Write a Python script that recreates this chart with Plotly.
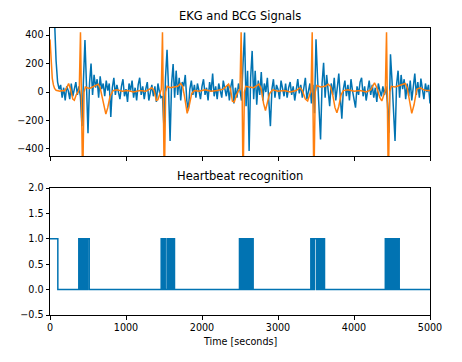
import plotly.graph_objects as go

# ---------------- data ----------------
# BCG signal (blue), sampled every 20 s from 0 to 5000
bcg_step = 20
bcg_values = [
    1500, 1100, 800, 500, 220, 70, 20, 50, -40, 30,
    -60, 40, 10, -50, 60, -30, 20, 70, -20, 40,
    -30, -240, 80, 366, 50, -290, 60, 200, -20, 120,
    30, 90, -40, 110, 20, 60, -30, 80, 10, 60,
    -176, 30, 100, -20, 50, 0, -50, 40, 90, -30,
    20, -70, 60, 10, 80, -40, 30, -60, 50, 100,
    -20, 40, -50, 20, 70, -60, 10, 50, -30, 40,
    -70, 60, 0, -40, -30, -260, 100, 296, 20, -345,
    60, 197, -40, 150, -20, 100, -60, 70, 40, 120,
    -60, -130, 20, 80, -20, 50, -40, 60, 10, -50,
    40, 90, -20, 30, -60, 70, 0, 130, -30, 40,
    -50, 60, 10, -40, 80, 20, -30, 50, -60, 40,
    90, -80, 30, -40, 60, 10, -60, 200, 418, -100,
    150, -415, 100, 289, -50, 150, -90, 80, -20, 140,
    -60, 60, 0, 100, -80, -240, 20, 90, -40, 50,
    20, -50, 80, 10, -30, 60, -40, 30, 70, -20,
    40, -60, 20, 90, -10, 50, -40, 30, 100, -50,
    20, 60, -80, 50, -150, 371, 100, -80, -333, 60,
    206, -40, 120, 10, -100, 60, -20, 100, -60, 30,
    130, -40, -188, 20, 80, -30, 50, -60, 90, 10,
    -50, -110, 40, -20, 70, 100, -30, 40, -60, 20,
    80, -20, 50, -40, 30, -70, 60, 10, -30, 40,
    -20, 40, -80, -286, 265, 80, -100, -345, 50, 150,
    -40, 120, 20, 90, -50, 60, -30, 80, -60, 40,
    130, -20, 70, -40, 95, 20, -50, 60, 0, 50,
    -80,
]
bcg_t = [i * bcg_step for i in range(len(bcg_values))]

# EKG signal (orange), irregularly sampled
ekg_t = [0, 10, 20, 30, 45, 60, 80, 100, 130, 160, 190, 215, 245, 270, 300, 320, 345, 370, 385,
         401, 415, 430, 448, 465, 490, 520, 560, 600, 635, 660, 690, 715, 735, 760, 790, 830,
         880, 950, 1020, 1100, 1180, 1260, 1340, 1370, 1400, 1420, 1450, 1465,
         1480, 1492, 1504, 1522, 1540, 1580, 1630, 1680, 1720, 1745, 1770, 1790, 1805, 1830,
         1865, 1900, 1960, 2040, 2120, 2200, 2280, 2350, 2375, 2400, 2425, 2455, 2480, 2500,
         2515, 2528, 2540, 2558, 2575, 2620, 2680, 2720, 2750, 2780, 2810, 2835, 2860, 2890,
         2930, 3000, 3080, 3160, 3240, 3290, 3320, 3360, 3390, 3415, 3435,
         3450, 3460, 3472, 3490, 3510, 3560, 3620, 3660, 3690, 3720, 3750, 3775, 3800, 3830,
         3860, 3920, 4000, 4080, 4160, 4220, 4270, 4300, 4340, 4366, 4390, 4412,
         4428, 4440, 4452, 4470, 4490, 4540, 4600, 4640, 4673, 4700, 4730, 4760, 4790, 4826,
         4870, 4920, 4960, 5000]
ekg_v = [370, 240, 150, 95, 50, 25, 12, 8, 5, 10, 8, 25, 60, 20, -50, -58, -20, 0, 20,
         420, 0, -650, 0, 35, 30, 25, 35, 45, 55, 30, -40, -120, -155, -110, -30, 10,
         15, 5, 10, 0, 10, 5, 30, 10, -60, -55, -10, 20,
         420, 0, -650, 0, 40, 30, 35, 40, 60, 40, -30, -120, -150, -100,
         -10, 10, 5, 15, 5, 10, 20, 55, 20, -65, -70, -20, 10, 20,
         420, 0, -650, 0, 40, 35, 30, 45, 55, 20, -80, -130, -80, -10,
         15, 5, 10, 0, 10, 30, 10, -50, -63, -20, 10,
         420, 0, -650, 0, 45, 35, 40, 55, 40, -20, -110, -146, -100, -20,
         10, 15, 5, 10, 0, 15, 65, 30, -40, -63, -20, 10,
         420, 0, -650, 0, 40, 35, 45, 50, 60, 30, -60, -150, -90, 20,
         30, 15, 10, 10]

# Heartbeat recognition: intervals (start, end) where the detector output is 1
hb_pulses = [
    (0, 103),
    (379, 384), (390, 395), (401, 406), (412, 417), (420, 425),
    (440, 445), (451, 456), (462, 467), (473, 478),
    (495, 516),
    (1463, 1468), (1474, 1479), (1485, 1490), (1496, 1501), (1507, 1516),
    (1540, 1545), (1551, 1556), (1562, 1572),
    (1583, 1593),
    (1603, 1608), (1614, 1619), (1625, 1630), (1633, 1638),
    (2493, 2498), (2504, 2509), (2515, 2520), (2526, 2531), (2537, 2545),
    (2556, 2561), (2567, 2572), (2578, 2583), (2589, 2594), (2600, 2605), (2611, 2616),
    (2622, 2627), (2633, 2638), (2644, 2649), (2655, 2660), (2666, 2673),
    (3432, 3437), (3443, 3448), (3454, 3459), (3465, 3470),
    (3477, 3505),
    (3520, 3525), (3531, 3536), (3542, 3547), (3553, 3558), (3564, 3569), (3575, 3580),
    (3586, 3591), (3597, 3602), (3607, 3612),
    (4412, 4417), (4423, 4428), (4434, 4439), (4445, 4455),
    (4468, 4473), (4479, 4484), (4490, 4495), (4501, 4506), (4512, 4517), (4523, 4528),
    (4534, 4539), (4545, 4550), (4556, 4561), (4567, 4572), (4578, 4583), (4589, 4595),
]
hb_end = 5000

x_ticks = [0, 1000, 2000, 3000, 4000, 5000]
x_ticktext = ["0", "1000", "2000", "3000", "4000", "5000"]
y1_ticks = [-400, -200, 0, 200, 400]
y1_ticktext = ["\u2212400", "\u2212200", "0", "200", "400"]
y2_ticks = [-0.5, 0.0, 0.5, 1.0, 1.5, 2.0]
y2_ticktext = ["\u22120.5", "0.0", "0.5", "1.0", "1.5", "2.0"]

title_top = "EKG and BCG Signals"
title_bottom = "Heartbeat recognition"
x_label = "Time [seconds]"

# ---------------- build step line ----------------
hx, hy = [], []
if hb_pulses[0][0] > 0:
    hx.append(0)
    hy.append(0)
for a, b in hb_pulses:
    hx += [a, b]
    hy += [1, 0]
hx.append(hb_end)
hy.append(0)

BLUE = "#0173b2"
ORANGE = "#ff7f0e"
FONT = "DejaVu Sans"

fig = go.Figure()
fig.add_trace(go.Scatter(x=bcg_t, y=bcg_values, mode="lines", name="BCG",
                         line=dict(color=BLUE, width=1.5), xaxis="x", yaxis="y"))
fig.add_trace(go.Scatter(x=ekg_t, y=ekg_v, mode="lines", name="EKG",
                         line=dict(color=ORANGE, width=1.5), xaxis="x", yaxis="y"))
fig.add_trace(go.Scatter(x=hx, y=hy, mode="lines", name="Heartbeat",
                         line=dict(color=BLUE, width=1.5, shape="hv"), xaxis="x2", yaxis="y2"))

axis_common = dict(showline=True, mirror=True, linecolor="black", linewidth=1,
                   ticks="outside", ticklen=3.5, tickwidth=1, tickcolor="black",
                   showgrid=False, zeroline=False,
                   tickfont=dict(family=FONT, size=9.6, color="black"))

top_dom = [0.554, 1.0]
bot_dom = [0.0, 0.4425]

fig.update_layout(
    width=462, height=362,
    margin=dict(l=50, r=32, t=28, b=47),
    paper_bgcolor="white", plot_bgcolor="white",
    showlegend=False,
    xaxis=dict(domain=[0, 1], range=[0, 5000], anchor="y", tickvals=x_ticks,
               showticklabels=False, **axis_common),
    yaxis=dict(domain=top_dom, range=[-450, 450], anchor="x", tickvals=y1_ticks,
               ticktext=y1_ticktext, **axis_common),
    xaxis2=dict(domain=[0, 1], range=[0, 5000], anchor="y2", tickvals=x_ticks,
                ticktext=x_ticktext, **axis_common),
    yaxis2=dict(domain=bot_dom, range=[-0.5, 2.0], anchor="x2", tickvals=y2_ticks,
                ticktext=y2_ticktext, **axis_common),
    annotations=[
        dict(text=title_top, x=0.5, y=top_dom[1], xref="paper", yref="paper",
             xanchor="center", yanchor="bottom", yshift=3, showarrow=False,
             font=dict(family=FONT, size=11.5, color="black")),
        dict(text=title_bottom, x=0.5, y=bot_dom[1], xref="paper", yref="paper",
             xanchor="center", yanchor="bottom", yshift=3, showarrow=False,
             font=dict(family=FONT, size=11.5, color="black")),
        dict(text=x_label, x=0.5, y=0, xref="paper", yref="paper",
             xanchor="center", yanchor="top", yshift=-19, showarrow=False,
             font=dict(family=FONT, size=9.6, color="black")),
    ],
)

fig.write_html("out.html")
